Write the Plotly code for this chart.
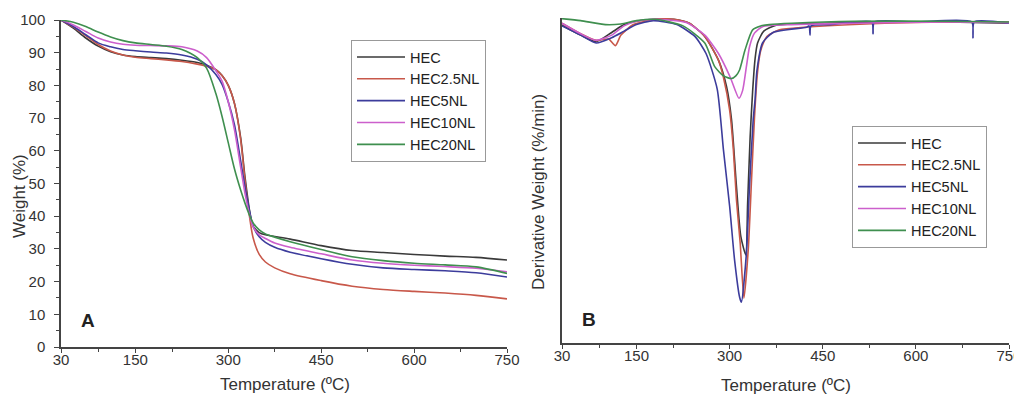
import plotly.graph_objects as go

# ---------------- Data ----------------
series_names = ["HEC", "HEC2.5NL", "HEC5NL", "HEC10NL", "HEC20NL"]
series_colors = ["#3a3a3a", "#c8584a", "#3c3c9c", "#cc5fcc", "#3f8f4f"]

# Panel A : TGA weight (%) vs temperature (°C)
temp_a = [30, 50, 70, 90, 110, 130, 150, 175, 200, 225, 250, 265, 280, 290, 300, 310,
          320, 327, 335, 340, 350, 360, 375, 400, 450, 500, 550, 600, 650, 700, 750]
weight_hec = [100, 97.5, 94.5, 92, 90.3, 89.3, 88.8, 88.5, 88.2, 87.7, 87, 86.2, 84.8, 83, 80, 74.5,
              64, 52, 41, 37, 35, 34.3, 33.8, 33, 31, 29.5, 28.9, 28.3, 27.8, 27.4, 26.6]
weight_hec25 = [100, 97.8, 95.2, 92.5, 90.5, 89.3, 88.6, 88.2, 87.8, 87.3, 86.5, 85.9, 84.8, 83, 80, 74.5,
                63.5, 51, 39, 33.5, 28.3, 26, 24.2, 22.4, 20.3, 18.6, 17.6, 17, 16.5, 15.8, 14.7]
weight_hec5 = [100, 98, 95.5, 93, 91.8, 91, 90.6, 90.2, 89.9, 89.3, 88, 86.3, 83.3, 80.3, 75, 68,
               57, 49, 41, 37, 33.7, 32, 30.5, 29, 27, 25.3, 24.2, 23.7, 23.3, 22.7, 21.4]
weight_hec10 = [100, 98.5, 96.5, 94.5, 93.3, 92.6, 92.3, 92.2, 92.1, 91.8, 90.5, 88.5, 84.5, 81.3, 75, 66.5,
                55, 47, 40, 36.8, 34.3, 33.2, 31.8, 30.5, 28.5, 26.6, 25.6, 25, 24.6, 24.1, 23]
weight_hec20 = [100, 99.3, 98, 96.3, 94.8, 93.7, 93, 92.5, 92, 91, 88.5, 85.3, 77.5, 70.5, 62.5, 54.5,
                48, 44, 40, 38, 35.8, 34.6, 33.6, 32.2, 29.8, 27.6, 26.4, 25.6, 25.1, 24.5, 22.5]

# Panel B : DTG derivative weight (%/min) vs temperature (°C)
temp_b_hec = [30, 60, 85, 110, 130, 150, 180, 210, 235, 260, 282, 295, 303, 311, 318, 326,
              329, 333, 337, 341, 345, 355, 375, 450, 550, 650, 750]
dtg_hec = [-0.45, -1.2, -1.7, -1.0, -0.4, -0.15, 0, 0, -0.3, -1.3, -3.1, -5.1, -7.6, -12.7, -16.5, -17.9,
           -14, -9, -5.5, -3, -1.8, -0.9, -0.45, -0.3, -0.2, -0.2, -0.3]

temp_b_hec25 = [30, 60, 85, 105, 116, 125, 145, 180, 210, 235, 260, 282, 290, 300, 306, 311, 317, 323,
                330, 335, 340, 345, 350, 360, 380, 420, 550, 650, 750]
dtg_hec25 = [-0.3, -1.1, -1.6, -1.5, -2.0, -1.2, -0.4, 0, 0, -0.3, -1.3, -3.1, -4.4, -6.9, -9.9, -13.7, -17, -21.2,
             -17.5, -12.5, -7.5, -4, -2.4, -1.3, -0.8, -0.6, -0.3, -0.2, -0.2]

temp_b_hec5 = [30, 60, 85, 110, 130, 150, 177, 215, 244, 262, 280, 290, 300, 308, 316, 319, 327, 332,
               338, 341, 344, 353, 370, 424, 428, 429.5, 431, 460, 529, 531, 533, 600, 690, 692, 694, 750]
dtg_hec5 = [-0.5, -1.2, -1.8, -1.4, -0.9, -0.4, -0.1, -0.4, -1.3, -2.6, -5.3, -9.9, -14.2, -18.3, -21.1, -21.5,
            -17.8, -12.7, -7.6, -6.1, -3.9, -1.8, -1.0, -0.6, -0.5, -1.2, -0.5, -0.4, -0.2, -1.1, -0.2,
            -0.2, -0.2, -1.4, -0.2, -0.3]

temp_b_hec10 = [30, 60, 85, 110, 130, 150, 180, 230, 260, 282, 301, 315, 321, 327, 332, 340, 353, 400,
                500, 650, 750]
dtg_hec10 = [-0.3, -1.1, -1.6, -1.2, -0.5, -0.15, 0, -0.25, -1.2, -2.6, -4.4, -6.0, -5.4, -3.6, -2.1, -1.05,
             -0.56, -0.4, -0.3, -0.2, -0.25]

temp_b_hec20 = [30, 60, 100, 125, 150, 180, 225, 260, 276, 290, 303, 310, 316, 325, 337, 350, 364, 400,
                500, 650, 750]
dtg_hec20 = [0.05, -0.1, -0.4, -0.35, -0.1, 0, -0.5, -1.8, -3.6, -4.3, -4.5, -4.3, -3.85, -2.3, -0.8, -0.5,
             -0.4, -0.3, -0.15, -0.15, -0.2]

tick_vals_x = [30, 150, 300, 450, 600, 750]

# ---------------- Figure ----------------
FONT = "Liberation Sans, Arial, sans-serif"
AX = "#444444"
OFF = 8                      # default page body margin
W, H = 1022 - OFF, 400 - OFF


def px_x(p):
    return (p - OFF) / W


def px_y(p):
    return 1 - (p - OFF) / H


fig = go.Figure()

weights = [weight_hec, weight_hec25, weight_hec5, weight_hec10, weight_hec20]
for name, color, w in zip(series_names, series_colors, weights):
    fig.add_trace(go.Scatter(x=temp_a, y=w, mode="lines", name=name,
                             line=dict(color=color, width=1.6, shape="spline", smoothing=0.8),
                             xaxis="x", yaxis="y", legend="legend"))

temps_b = [temp_b_hec, temp_b_hec25, temp_b_hec5, temp_b_hec10, temp_b_hec20]
dtgs = [dtg_hec, dtg_hec25, dtg_hec5, dtg_hec10, dtg_hec20]
for name, color, t, d in zip(series_names, series_colors, temps_b, dtgs):
    fig.add_trace(go.Scatter(x=t, y=d, mode="lines", name=name,
                             line=dict(color=color, width=1.6, shape="spline", smoothing=0.6),
                             xaxis="x2", yaxis="y2", legend="legend2"))

xcommon = dict(range=[30, 750], tickvals=tick_vals_x, ticks="outside", ticklen=4, tickwidth=1.2,
               tickcolor=AX, showline=True, linecolor=AX, linewidth=1.5, showgrid=False,
               zeroline=False, automargin=False, ticklabelstandoff=-6,
               tickfont=dict(family=FONT, size=15, color="#333333"),
               minor=dict(tickvals=[90, 210, 375, 525, 675], ticks="outside", ticklen=3,
                          tickcolor=AX, showgrid=False))

legend_common = dict(font=dict(family=FONT, size=14.5, color="#222222"), bgcolor="white",
                     bordercolor="#999999", borderwidth=1, xanchor="left", yanchor="top",
                     tracegroupgap=0, itemwidth=48)

fig.update_layout(
    width=W, height=H,
    margin=dict(l=0, r=0, t=0, b=0, autoexpand=False),
    paper_bgcolor="white", plot_bgcolor="white",
    font=dict(family=FONT, color="#333333"),
    xaxis=dict(domain=[px_x(61), px_x(507)], anchor="y", **xcommon),
    yaxis=dict(domain=[px_y(347), px_y(20)], anchor="x", range=[0, 100], dtick=10, tick0=0,
               ticks="outside", ticklen=5, tickwidth=1.2, tickcolor=AX, showline=True,
               linecolor=AX, linewidth=1.5, showgrid=False, zeroline=False, automargin=False,
               tickfont=dict(family=FONT, size=15, color="#333333"), ticklabelstandoff=6,
               minor=dict(dtick=5, ticks="outside", ticklen=3, tickcolor=AX, showgrid=False)),
    xaxis2=dict(domain=[px_x(562), px_x(1009)], anchor="y2", **xcommon),
    yaxis2=dict(domain=[px_y(343), px_y(18)], anchor="x2", range=[-24.6, 0.1], showticklabels=False,
                ticks="", showline=True, linecolor=AX, linewidth=1.5, showgrid=False,
                zeroline=False, automargin=False),
    legend=dict(x=px_x(351), y=px_y(40), **legend_common),
    legend2=dict(x=px_x(852), y=px_y(126), **legend_common),
    showlegend=True,
)

ann_font = dict(family=FONT, size=17, color="#333333")


def label(text, x, y, angle=0, font=ann_font):
    fig.add_annotation(text=text, x=px_x(x), y=px_y(y), xref="paper", yref="paper",
                       xanchor="center", yanchor="middle", textangle=angle,
                       showarrow=False, font=font)


label("Weight (%)", 19, 196, -90)
label("Temperature (ºC)", 285, 384)
label("Derivative Weight (%/min)", 538, 192, -90)
label("Temperature (ºC)", 786, 385)
bold = dict(family=FONT, size=19, color="#222222")
label("<b>A</b>", 87.5, 320, font=bold)
label("<b>B</b>", 589, 319, font=bold)

fig.write_html("out.html")
